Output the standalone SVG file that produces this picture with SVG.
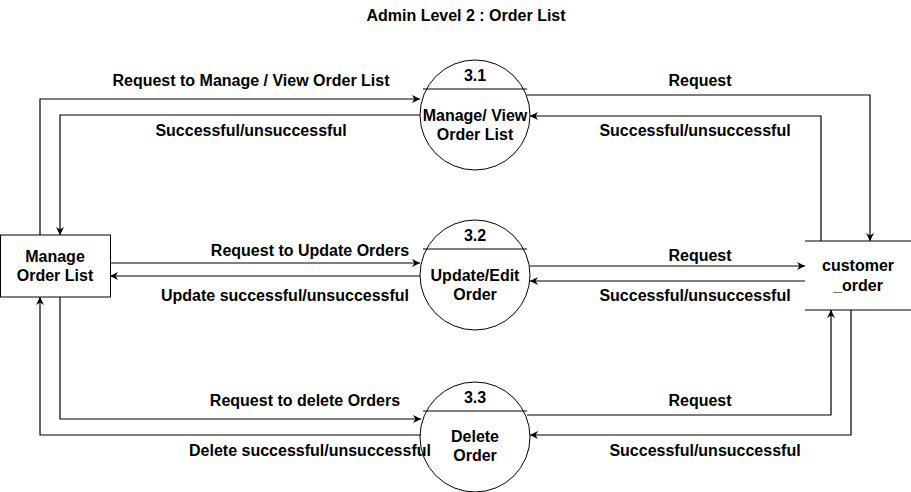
<svg xmlns="http://www.w3.org/2000/svg" width="911" height="492" viewBox="0 0 911 492">
<style>
text{font-family:"Liberation Sans",Arial,sans-serif;font-size:16px;font-weight:bold;fill:#000;text-anchor:middle}
.ln{fill:none;stroke:#000;stroke-width:1.2}
.sh{fill:#fff;stroke:#000;stroke-width:1}
</style>
<defs>
<marker id="a" viewBox="0 0 10 10" refX="10" refY="5" markerWidth="8" markerHeight="8" markerUnits="userSpaceOnUse" orient="auto">
<path d="M0,0 L10,5 L0,10 L3,5 Z" fill="#000"/>
</marker>
</defs>
<rect width="911" height="492" fill="#fff"/>
<text x="466" y="21">Admin Level 2 : Order List</text>
<g id="manage-order-list">
<rect class="sh" x="0.5" y="235" width="110" height="62"/>
<text x="55" y="262">Manage</text>
<text x="55" y="281">Order List</text>
</g>
<g id="p31">
<circle class="sh" cx="475" cy="115" r="55"/>
<line class="ln" stroke-width="1" x1="423" y1="89" x2="527" y2="89"/>
<text x="475" y="81">3.1</text>
<text x="475" y="121">Manage/ View</text>
<text x="475" y="140">Order List</text>
</g>
<g id="p32">
<circle class="sh" cx="475" cy="275" r="55"/>
<line class="ln" stroke-width="1" x1="423" y1="249" x2="527" y2="249"/>
<text x="475" y="241">3.2</text>
<text x="475" y="281">Update/Edit</text>
<text x="475" y="300">Order</text>
</g>
<g id="p33">
<circle class="sh" cx="475" cy="437" r="55"/>
<line class="ln" stroke-width="1" x1="423" y1="411" x2="527" y2="411"/>
<text x="475" y="403">3.3</text>
<text x="475" y="442">Delete</text>
<text x="475" y="461">Order</text>
</g>
<g id="customer-order">
<line class="ln" stroke-width="1" x1="805" y1="241" x2="911" y2="241"/>
<line class="ln" stroke-width="1" x1="805" y1="310" x2="911" y2="310"/>
<text x="858" y="271">customer</text>
<text x="858" y="291">_order</text>
</g>
<g id="connectors">
<path class="ln" d="M40,235 V99 H420" marker-end="url(#a)"/>
<path class="ln" d="M420,115 H60 V235" marker-end="url(#a)"/>
<path class="ln" d="M527,95 H870 V241" marker-end="url(#a)"/>
<path class="ln" d="M821,241 V116 H530" marker-end="url(#a)"/>
<path class="ln" d="M110,263 H420" marker-end="url(#a)"/>
<path class="ln" d="M420,276 H110" marker-end="url(#a)"/>
<path class="ln" d="M530,266 H805" marker-end="url(#a)"/>
<path class="ln" d="M805,281 H530" marker-end="url(#a)"/>
<path class="ln" d="M60,297 V419 H421" marker-end="url(#a)"/>
<path class="ln" d="M421,435 H40 V297" marker-end="url(#a)"/>
<path class="ln" d="M527,415 H831 V310" marker-end="url(#a)"/>
<path class="ln" d="M851,310 V435 H530" marker-end="url(#a)"/>
<text x="251" y="86">Request to Manage / View Order List</text>
<text x="251" y="136">Successful/unsuccessful</text>
<text x="700" y="86">Request</text>
<text x="695" y="136">Successful/unsuccessful</text>
<text x="310" y="256">Request to Update Orders</text>
<text x="285" y="301">Update successful/unsuccessful</text>
<text x="700" y="261">Request</text>
<text x="695" y="301">Successful/unsuccessful</text>
<text x="305" y="406">Request to delete Orders</text>
<text x="310" y="456">Delete successful/unsuccessful</text>
<text x="700" y="406">Request</text>
<text x="705" y="456">Successful/unsuccessful</text>
</g>
</svg>
